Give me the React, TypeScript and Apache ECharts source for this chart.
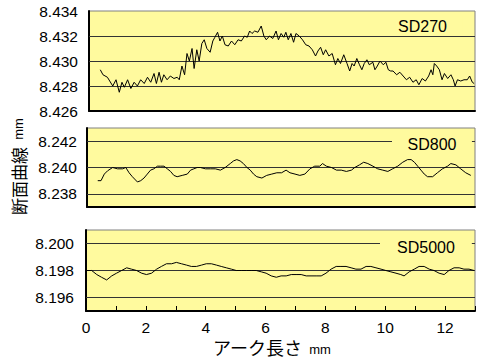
import React, { useEffect, useRef } from "react";
import * as echarts from "echarts";

// ---- Data (arc length in mm, profile in mm) ----
const sd270X = [0.38,0.47,0.62,0.80,0.91,1.02,1.11,1.19,1.30,1.41,1.52,1.63,1.74,1.86,1.97,2.08,2.19,2.27,2.36,2.44,2.52,2.63,2.74,2.86,2.97,3.04,3.13,3.22,3.30,3.38,3.47,3.54,3.63,3.71,3.80,3.88,3.97,4.08,4.17,4.24,4.33,4.41,4.49,4.58,4.69,4.80,4.91,5.02,5.13,5.24,5.33,5.41,5.49,5.58,5.69,5.80,5.89,5.97,6.08,6.19,6.30,6.38,6.47,6.56,6.63,6.71,6.80,6.89,6.97,7.08,7.19,7.30,7.41,7.52,7.63,7.71,7.80,7.89,7.97,8.08,8.19,8.30,8.38,8.47,8.58,8.69,8.78,8.86,8.93,9.02,9.11,9.19,9.27,9.36,9.44,9.56,9.63,9.71,9.80,9.91,10.00,10.08,10.16,10.24,10.36,10.47,10.58,10.69,10.80,10.91,11.02,11.11,11.22,11.33,11.44,11.52,11.58,11.63,11.71,11.80,11.89,11.97,12.08,12.19,12.27,12.33,12.41,12.52,12.63,12.74,12.82,12.91,12.97];
const sd270Y = [8.4293,8.4289,8.4287,8.4280,8.4285,8.4275,8.4283,8.4279,8.4285,8.4278,8.4283,8.4280,8.4285,8.4282,8.4287,8.4283,8.4290,8.4282,8.4291,8.4283,8.4289,8.4285,8.4288,8.4286,8.4287,8.4285,8.4296,8.4289,8.4306,8.4300,8.4310,8.4294,8.4309,8.4300,8.4314,8.4317,8.4310,8.4307,8.4316,8.4319,8.4323,8.4316,8.4320,8.4313,8.4312,8.4316,8.4313,8.4317,8.4316,8.4320,8.4319,8.4324,8.4322,8.4324,8.4323,8.4328,8.4320,8.4317,8.4320,8.4318,8.4324,8.4317,8.4322,8.4319,8.4323,8.4317,8.4322,8.4315,8.4322,8.4320,8.4317,8.4313,8.4312,8.4309,8.4304,8.4308,8.4311,8.4305,8.4309,8.4304,8.4306,8.4297,8.4302,8.4298,8.4305,8.4298,8.4292,8.4298,8.4296,8.4302,8.4297,8.4293,8.4298,8.4301,8.4297,8.4299,8.4293,8.4296,8.4300,8.4297,8.4299,8.4293,8.4292,8.4292,8.4289,8.4291,8.4288,8.4285,8.4287,8.4283,8.4285,8.4281,8.4286,8.4284,8.4288,8.4293,8.4289,8.4298,8.4296,8.4293,8.4285,8.4290,8.4286,8.4289,8.4285,8.4280,8.4285,8.4284,8.4285,8.4285,8.4288,8.4283,8.4282];

const sd800X = [0.36,0.47,0.58,0.69,0.86,1.02,1.19,1.30,1.41,1.52,1.69,1.80,1.91,2.02,2.13,2.24,2.36,2.47,2.58,2.69,2.80,2.91,3.02,3.19,3.36,3.47,3.58,3.69,3.80,3.97,4.13,4.30,4.47,4.63,4.80,4.91,5.02,5.13,5.24,5.36,5.47,5.58,5.69,5.86,6.02,6.19,6.36,6.52,6.67,6.80,6.97,7.13,7.30,7.47,7.63,7.80,7.89,8.02,8.19,8.36,8.52,8.69,8.86,8.97,9.13,9.27,9.41,9.58,9.74,9.91,10.08,10.24,10.41,10.58,10.74,10.86,10.97,11.08,11.19,11.30,11.41,11.58,11.74,11.91,12.08,12.19,12.36,12.52,12.69,12.86];
const sd800Y = [8.2390,8.2390,8.2395,8.23975,8.2400,8.2399,8.2399,8.2400,8.2396,8.2393,8.2389,8.2390,8.2392,8.2395,8.2398,8.2399,8.2401,8.2401,8.2401,8.2399,8.2397,8.2394,8.2393,8.2394,8.2395,8.2398,8.2399,8.2400,8.2400,8.2399,8.2399,8.2399,8.2398,8.2400,8.2403,8.2405,8.2406,8.2405,8.2403,8.2400,8.2398,8.2395,8.2393,8.2392,8.2394,8.2395,8.2396,8.2396,8.2398,8.2396,8.2395,8.2394,8.2395,8.2399,8.2401,8.2401,8.2403,8.2401,8.2400,8.2398,8.2398,8.2397,8.2398,8.2400,8.2402,8.2404,8.2403,8.2401,8.2399,8.2398,8.2397,8.2399,8.2401,8.2404,8.2406,8.2406,8.2404,8.2401,8.2398,8.2395,8.2393,8.2393,8.2396,8.2399,8.2401,8.2403,8.2402,8.2399,8.2396,8.2394];

const sd5000X = [0,0.19,0.36,0.52,0.69,0.86,1.02,1.19,1.36,1.52,1.69,1.86,2.02,2.19,2.36,2.52,2.69,2.86,3.02,3.19,3.36,3.52,3.69,3.86,4.02,4.19,4.36,4.52,4.69,4.86,5.02,5.19,5.36,5.52,5.69,5.86,6.02,6.19,6.36,6.52,6.69,6.86,7.02,7.19,7.36,7.52,7.69,7.86,8.02,8.19,8.36,8.52,8.69,8.86,9.02,9.19,9.36,9.52,9.69,9.86,10.02,10.19,10.36,10.52,10.63,10.80,10.97,11.13,11.30,11.47,11.63,11.80,11.97,12.13,12.30,12.47,12.63,12.80,12.97];
const sd5000Y = [8.1980,8.1980,8.1977,8.1975,8.1973,8.1976,8.1978,8.1980,8.1982,8.1981,8.1980,8.1978,8.1977,8.1978,8.1981,8.1983,8.1985,8.1985,8.1986,8.1985,8.1984,8.1983,8.1983,8.1984,8.1985,8.1985,8.1984,8.1983,8.1982,8.1981,8.1980,8.1980,8.1980,8.1980,8.1980,8.1979,8.1978,8.1976,8.1975,8.1976,8.1976,8.1977,8.1977,8.1977,8.1976,8.1976,8.1976,8.1976,8.1978,8.1981,8.1983,8.1983,8.1983,8.1982,8.1981,8.1981,8.1983,8.1983,8.1982,8.1981,8.1980,8.1979,8.1978,8.1977,8.1976,8.1979,8.1981,8.1983,8.1983,8.1981,8.1980,8.1978,8.1977,8.1980,8.1982,8.1982,8.1981,8.1981,8.1980];

const panelNames = ["SD270", "SD800", "SD5000"];
const yMins = [8.426, 8.237, 8.195];
const yMaxs = [8.434, 8.243, 8.201];
const gridLines = [
  [8.428, 8.430, 8.432],
  [8.238, 8.240, 8.242],
  [8.196, 8.198, 8.200],
];
const xMin = 0;
const xMax = 13;
const xTitle = "アーク長さ";
const yTitle = "断面曲線";
const unit = "mm";

const YELLOW = "#FFFA9E";
const FONT = "'Liberation Sans', Arial, sans-serif";
const JFONT = "'Noto Sans CJK JP', sans-serif";

const zip = (xs: number[], ys: number[]) => xs.map((x, i) => [x, ys[i]]);

export default function App() {
  const ref = useRef<HTMLDivElement>(null);
  useEffect(() => {
    if (!ref.current) return;
    const chart = echarts.init(ref.current, undefined, { renderer: "svg" });
    const grids = [
      { left: 89, right: 7, top: 11, height: 100 },
      { left: 87, right: 7, top: 128, height: 79 },
      { left: 86, right: 7, top: 230, height: 81 },
    ];
    const labelMargins = [11, 10, 12];
    const datas = [zip(sd270X, sd270Y), zip(sd800X, sd800Y), zip(sd5000X, sd5000Y)];
    const option: any = {
      animation: false,
      backgroundColor: "#fff",
      grid: grids.map((g) => ({
        ...g,
        show: true,
        backgroundColor: YELLOW,
        borderColor: "#808080",
        borderWidth: 1,
      })),
      xAxis: grids.map((_, i) => ({
        type: "value",
        gridIndex: i,
        min: xMin,
        max: xMax,
        interval: 1,
        axisLine: { show: true, onZero: false, lineStyle: { color: "#000", width: 2 } },
        axisTick: { show: i === 2, inside: true, length: 5, lineStyle: { color: "#000", width: 1 } },
        axisLabel: {
          show: i === 2,
          margin: 8,
          fontSize: 15.5,
          fontFamily: FONT,
          color: "#000",
          formatter: (v: number) => (Math.round(v) % 2 === 0 && v < 13 ? String(Math.round(v)) : ""),
        },
        splitLine: { show: false },
      })),
      yAxis: grids.map((_, i) => ({
        type: "value",
        gridIndex: i,
        min: yMins[i],
        max: yMaxs[i],
        interval: 0.001,
        axisLine: { show: true, lineStyle: { color: "#000", width: 2 } },
        axisTick: { show: false },
        axisLabel: {
          margin: labelMargins[i],
          fontSize: 15.5,
          fontFamily: FONT,
          color: "#000",
          formatter: (v: number) => {
            const k = Math.round(v * 1000);
            const valid = gridLines[i].some((g) => Math.round(g * 1000) === k) || (i === 0 && (k === 8426 || k === 8434));
            return valid ? (k / 1000).toFixed(3) : "";
          },
        },
        splitLine: { show: false },
      })),
      title: panelNames.map((n, i) => {
        const pos = [
          { left: 382, top: 16, padding: [2, 16] },
          { left: 392, top: 134, padding: [2, 15.5] },
          { left: 380, top: 237.5, padding: [2, 17] },
        ][i];
        return {
          text: n,
          left: pos.left,
          top: pos.top,
          padding: pos.padding,
          backgroundColor: YELLOW,
          textStyle: { fontSize: 16, fontWeight: "normal", fontFamily: FONT, color: "#000", lineHeight: 16 },
          z: 10,
        };
      }),
      series: datas.map((d, i) => ({
        type: "line",
        xAxisIndex: i,
        yAxisIndex: i,
        data: d,
        showSymbol: false,
        symbol: "none",
        lineStyle: { color: "#000", width: 1 },
        z: 3,
        markLine: {
          silent: true,
          symbol: ["none", "none"],
          label: { show: false },
          lineStyle: { color: "#333", width: 1, type: "solid" },
          data: gridLines[i].map((v) => [
            { coord: [xMin, v] },
            { coord: [xMax, v] },
          ]),
          z: 2,
        },
      })),
      graphic: [
        {
          type: "text",
          left: 213,
          top: 338,
          style: {
            text: "{a|" + xTitle + "}{b|  " + unit + "}",
            rich: {
              a: { fontSize: 18, fontFamily: JFONT, fill: "#000", verticalAlign: "bottom" },
              b: { fontSize: 13, fontFamily: FONT, fill: "#000", verticalAlign: "bottom" },
            },
          },
        },
        {
          type: "text",
          x: 10,
          y: 215,
          rotation: Math.PI / 2,
          style: {
            text: "{a|" + yTitle + "}{b|  " + unit + "}",
            rich: {
              a: { fontSize: 17, fontFamily: JFONT, fill: "#000" },
              b: { fontSize: 13, fontFamily: FONT, fill: "#000" },
            },
          },
        },
      ],
    };
    chart.setOption(option);
    return () => chart.dispose();
  }, []);
  return (
    <div
      ref={ref}
      style={{ position: "absolute", left: 0, top: 0, width: 482, height: 363 }}
    />
  );
}
